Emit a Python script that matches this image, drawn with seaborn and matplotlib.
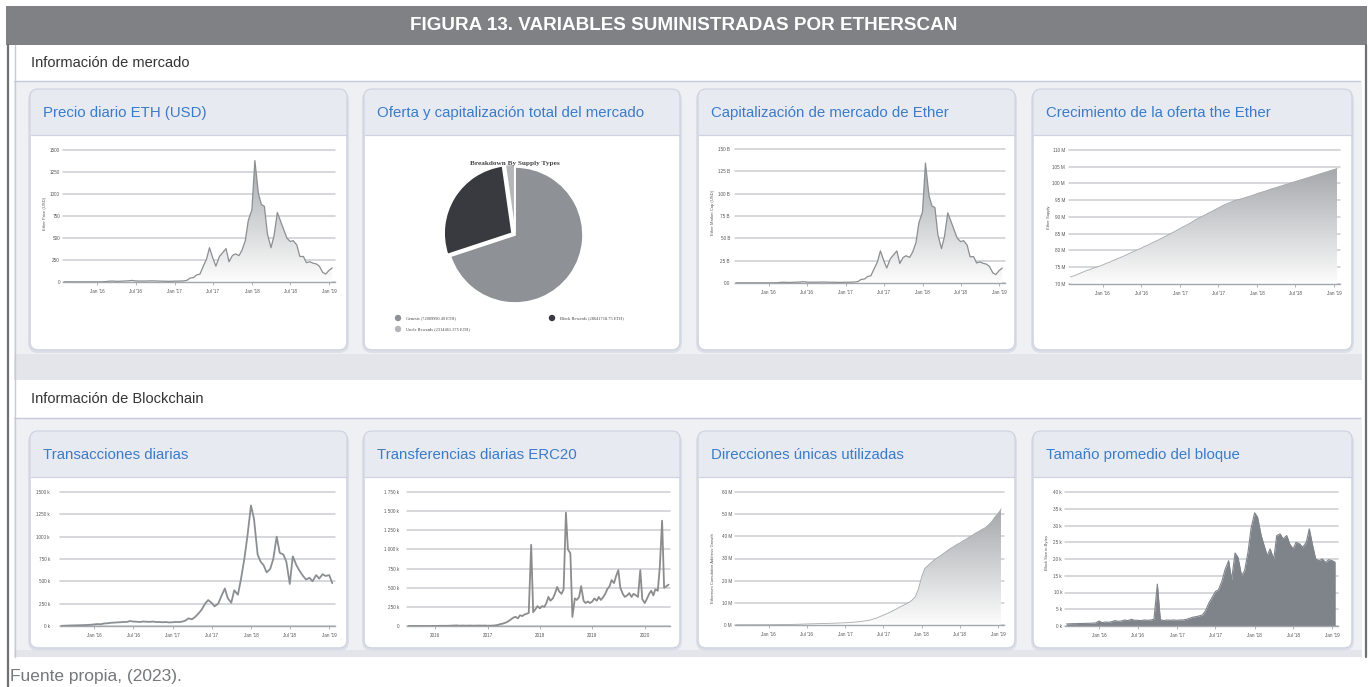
import numpy as np
import pandas as pd
import matplotlib
matplotlib.use("Agg")
import matplotlib.pyplot as plt
import matplotlib.dates as mdates
from matplotlib.patches import FancyBboxPatch, Rectangle, Circle
from matplotlib.lines import Line2D
from matplotlib.colors import LinearSegmentedColormap
from matplotlib.transforms import Affine2D
import seaborn as sns

# ---------------- data ----------------
dates_main = pd.date_range("2015-08-01", "2019-01-15", freq="SMS")
dates_erc20 = pd.date_range("2015-07-01", "2020-06-15", freq="SMS")

price_usd = [1.5, 1.2, 1.0, 0.9, 0.7, 0.5, 0.9, 0.9, 0.9, 0.9,
             0.95, 1.3, 2.5, 5, 10, 11, 8, 8, 10, 12, 14, 18, 12, 11, 11, 11, 12, 13, 12, 11, 10, 9, 8, 8,
             10, 10, 11, 13, 19, 45, 50, 80, 90, 170, 260, 390, 270, 180, 290, 330, 380, 230, 300, 320, 300, 360, 470, 700,
             820, 1380, 1000, 880, 860, 550, 390, 520, 790, 700, 590, 500, 460, 470, 420, 290, 290, 220, 230, 215, 205, 180, 110, 90,
             135, 160]

market_cap_b = [0.11, 0.09, 0.07, 0.07, 0.05, 0.04, 0.07, 0.07, 0.07, 0.07,
                0.07, 0.10, 0.19, 0.38, 0.77, 0.85, 0.62, 0.63, 0.79, 0.95, 1.12, 1.45, 0.97, 0.89, 0.90, 0.90, 0.99, 1.08, 1.0, 0.92, 0.85, 0.77, 0.68, 0.69,
                0.87, 0.87, 0.96, 1.15, 1.68, 4.0, 4.5, 7.2, 8.2, 15.5, 23.8, 36.0, 25.0, 16.8, 27.2, 31.1, 35.9, 21.8, 28.6, 30.5, 28.7, 34.6, 45.3, 67.6,
                79.5, 134.3, 97.6, 86.2, 84.5, 54.2, 38.5, 51.5, 78.5, 69.8, 59.0, 50.2, 46.3, 47.4, 42.5, 29.4, 29.5, 22.5, 23.6, 22.1, 21.1, 18.6, 11.4, 9.4,
                14.1, 16.7]

supply_m = [72.1, 72.4, 72.8, 73.2, 73.6, 74.0, 74.3, 74.7, 75.0, 75.3,
            75.7, 76.1, 76.5, 76.9, 77.3, 77.7, 78.1, 78.5, 79.0, 79.4, 79.9, 80.3, 80.7, 81.2, 81.6, 82.1, 82.6, 83.0, 83.5, 84.0, 84.5, 85.0, 85.5, 86.0,
            86.6, 87.1, 87.6, 88.1, 88.6, 89.2, 89.7, 90.2, 90.7, 91.2, 91.7, 92.2, 92.7, 93.2, 93.7, 94.1, 94.5, 94.9, 95.2, 95.4, 95.7, 96.0, 96.3, 96.6,
            97.0, 97.3, 97.6, 97.9, 98.2, 98.5, 98.8, 99.1, 99.4, 99.7, 100.0, 100.3, 100.6, 100.9, 101.2, 101.5, 101.8, 102.1, 102.4, 102.7, 103.0, 103.3, 103.6, 103.9,
            104.2, 104.5]

tx_k = [2, 3, 5, 6, 7, 8, 9, 10, 12, 14,
        18, 22, 20, 28, 30, 35, 38, 40, 42, 45, 45, 55, 50, 48, 45, 50, 48, 46, 50, 44, 45, 42, 44, 40,
        42, 45, 44, 50, 60, 85, 75, 100, 140, 180, 250, 290, 260, 220, 250, 330, 420, 310, 260, 400, 350, 520, 750, 1000,
        1350, 1200, 800, 720, 680, 600, 640, 750, 1000, 820, 800, 720, 470, 780, 680, 620, 560, 520, 540, 500, 570, 530, 580, 560,
        570, 480]

erc20_k = [0, 0, 0, 0, 0, 0, 0, 0, 0, 0, 0, 1,
           1, 1, 2, 2, 3, 2, 3, 4, 5, 6, 8, 4, 5, 6, 4, 5, 6, 5, 4, 5, 6, 5, 5, 6,
           3, 4, 5, 6, 10, 15, 25, 30, 40, 50, 70, 90, 110, 120, 100, 140, 130, 150, 160, 170, 1060, 180, 220, 260,
           230, 260, 250, 300, 380, 330, 360, 420, 510, 450, 420, 480, 1480, 1000, 950, 118, 360, 340, 380, 520, 330, 300, 320, 300,
           320, 360, 330, 380, 340, 370, 420, 480, 520, 600, 560, 650, 730, 500, 420, 380, 400, 430, 380, 420, 400, 380, 730, 350,
           300, 350, 420, 460, 400, 480, 460, 770, 1375, 500, 520, 540]

addresses_m = [0.0, 0.01, 0.01, 0.02, 0.02, 0.03, 0.04, 0.05, 0.06, 0.07,
               0.08, 0.1, 0.12, 0.14, 0.17, 0.2, 0.23, 0.26, 0.29, 0.33, 0.37, 0.42, 0.46, 0.5, 0.54, 0.58, 0.62, 0.66, 0.7, 0.75, 0.8, 0.85, 0.9, 0.95,
               1.0, 1.1, 1.2, 1.3, 1.45, 1.6, 1.8, 2.0, 2.3, 2.7, 3.2, 3.8, 4.4, 5.0, 5.7, 6.4, 7.2, 8.0, 8.7, 9.4, 10.2, 11.2, 12.8, 16.0,
               22.0, 25.5, 27.0, 28.2, 29.3, 30.3, 31.3, 32.3, 33.4, 34.4, 35.3, 36.2, 37.0, 37.9, 38.8, 39.7, 40.6, 41.5, 42.3, 43.1, 44.0, 45.2, 46.7, 48.6,
               50.5, 52.4]

block_size_k = [0.6, 0.65, 0.7, 0.7, 0.75, 0.75, 0.8, 0.8, 0.85, 0.9,
                1.5, 1.0, 1.2, 1.1, 1.3, 1.6, 1.4, 1.5, 1.8, 1.6, 2.0, 1.7, 1.7, 1.6, 1.8, 1.7, 1.8, 2.0, 12.5, 1.9, 1.6, 1.8, 1.7, 1.8,
                1.7, 1.8, 1.8, 2.0, 2.3, 2.6, 2.8, 3.0, 3.3, 4.5, 7.0, 8.5, 10.3, 10.8, 13.5, 16.8, 19.5, 13.8, 21.8, 20.5, 15.0, 16.5, 22.0, 29.0,
                33.8, 32.5, 27.0, 24.0, 21.0, 23.0, 20.0, 27.0, 27.5, 26.0, 27.0, 24.5, 23.0, 25.0, 24.5, 23.5, 25.0, 29.0, 24.0, 20.0, 19.5, 20.0, 19.0, 19.8,
                19.5, 19.0]

supply_types = ["Genesis (72009990.49 ETH)", "Block Rewards (28641718.75 ETH)", "Uncle Rewards (2314461.375 ETH)"]
supply_values = [72009990.49, 28641718.75, 2314461.375]
supply_colors = ["#8e9196", "#393a40", "#b4b6b9"]

main_tick_dates = ["2016-01-01", "2016-07-01", "2017-01-01", "2017-07-01", "2018-01-01", "2018-07-01", "2019-01-01"]
main_tick_labels = ["Jan '16", "Jul '16", "Jan '17", "Jul '17", "Jan '18", "Jul '18", "Jan '19"]
erc_tick_dates = ["2016-01-01", "2017-01-01", "2018-01-01", "2019-01-01", "2020-01-01"]
erc_tick_labels = ["2016", "2017", "2018", "2019", "2020"]

price_ticks = [0, 250, 500, 750, 1000, 1250, 1500]
price_labels = ["0", "250", "500", "750", "1000", "1250", "1500"]
mcap_ticks = [0, 25, 50, 75, 100, 125, 150]
mcap_labels = ["0.0", "25 B", "50 B", "75 B", "100 B", "125 B", "150 B"]
supply_ticks = [70, 75, 80, 85, 90, 95, 100, 105, 110]
supply_labels = ["70 M", "75 M", "80 M", "85 M", "90 M", "95 M", "100 M", "105 M", "110 M"]
tx_ticks = [0, 250, 500, 750, 1000, 1250, 1500]
tx_labels = ["0 k", "250 k", "500 k", "750 k", "1000 k", "1250 k", "1500 k"]
erc_ticks = [0, 250, 500, 750, 1000, 1250, 1500, 1750]
erc_labels = ["0", "250 k", "500 k", "750 k", "1 000 k", "1 250 k", "1 500 k", "1 750 k"]
addr_ticks = [0, 10, 20, 30, 40, 50, 60]
addr_labels = ["0 M", "10 M", "20 M", "30 M", "40 M", "50 M", "60 M"]
block_ticks = [0, 5, 10, 15, 20, 25, 30, 35, 40]
block_labels = ["0 k", "5 k", "10 k", "15 k", "20 k", "25 k", "30 k", "35 k", "40 k"]

# ---------------- figure ----------------
W, H = 1368, 687
sns.set_theme(style="white")
plt.rcParams['font.family'] = ['Liberation Sans', 'DejaVu Sans']

fig = plt.figure(figsize=(W / 100, H / 100), dpi=100)
fig.patch.set_facecolor("white")
PX = Affine2D().scale(0.01, -0.01).translate(0, H / 100) + fig.dpi_scale_trans


def rect(x0, y0, x1, y1, color, z=0):
    fig.add_artist(Rectangle((x0, y0), x1 - x0, y1 - y0, transform=PX, facecolor=color,
                             edgecolor="none", zorder=z))


def rbox(x0, y0, x1, y1, fc, ec="none", r=8, lw=0.8, z=0):
    fig.add_artist(FancyBboxPatch((x0, y0), x1 - x0, y1 - y0, boxstyle=f"round,pad=0,rounding_size={r}",
                                  transform=PX, facecolor=fc, edgecolor=ec, linewidth=lw, zorder=z))


def hline(x0, x1, y, color, lw=1.0, z=1):
    fig.add_artist(Line2D([x0, x1], [y, y], transform=PX, color=color, lw=lw, zorder=z))


def vline(x, y0, y1, color, lw=1.0, z=1):
    fig.add_artist(Line2D([x, x], [y0, y1], transform=PX, color=color, lw=lw, zorder=z))


def ptext(x, y, s, **kw):
    fig.text(x, y, s, transform=PX, **kw)


# background structure
rect(14, 45, 1362, 657, "#e3e5ea")
rect(14, 45, 1362, 81, "white")
rect(14, 81, 1362, 354, "#eff0f4")
rect(14, 380, 1362, 418, "white")
rect(14, 418, 1362, 650, "#eff0f4")
rect(6, 6, 1367, 45, "#808184", z=2)
vline(7.5, 45, 687, "#6f7073", lw=1.6, z=2)
vline(1366, 45, 657, "#6f7073", lw=1.6, z=2)
vline(14.5, 45, 657, "#c5cadb", lw=1.0, z=2)
hline(14, 1360, 81, "#c5cadb", lw=1.0)
hline(14, 1360, 418, "#c5cadb", lw=1.0)

ptext(684, 26, "FIGURA 13. VARIABLES SUMINISTRADAS POR ETHERSCAN", color="white", fontsize=13.6,
      fontweight="bold", ha="center", va="center", zorder=3)
ptext(31, 63, "Información de mercado", color="#333333", fontsize=10.5, va="center")
ptext(31, 399, "Información de Blockchain", color="#333333", fontsize=10.5, va="center")
ptext(10, 677, "Fuente propia, (2023).", color="#76787b", fontsize=12.5, va="center")

card_x = [(30, 347), (364, 680), (698, 1015), (1033, 1352)]
rows = [(89, 135, 350), (431, 477, 648)]
titles = [["Precio diario ETH (USD)", "Oferta y capitalización total del mercado",
           "Capitalización de mercado de Ether", "Crecimiento de la oferta the Ether"],
          ["Transacciones diarias", "Transferencias diarias ERC20",
           "Direcciones únicas utilizadas", "Tamaño promedio del bloque"]]
for (top, hdr, bot), row_titles in zip(rows, titles):
    for (x0, x1), t in zip(card_x, row_titles):
        rbox(x0 - 2, top + 1, x1 + 2, bot + 3, "#dcdfe7", r=10, z=1)
        rbox(x0, top, x1, bot, "#e8eaf2", ec="#cdd2e0", r=8, z=2)
        rbox(x0 + 1, hdr, x1 - 1, bot - 1, "white", r=7, z=2)
        rect(x0 + 1, hdr, x1 - 1, hdr + 12, "white", z=2)
        hline(x0 + 1, x1 - 1, hdr, "#cfd3df", lw=0.9, z=3)
        ptext(x0 + 13, (top + hdr) / 2 + 1, t, color="#3a7cc9", fontsize=10.8, va="center", zorder=4)


def add_ax(l, t, r, b):
    ax = fig.add_axes([l / W, 1 - b / H, (r - l) / W, (b - t) / H])
    ax.set_zorder(5)
    return ax


def style(ax, yt, ytl, xt, xtl, xlim, pad_px):
    ax.set_facecolor("none")
    ax.set_ylim(yt[0], yt[-1])
    ax.set_yticks(yt)
    ax.set_yticklabels(ytl)
    ax.set_xticks(pd.to_datetime(xt))
    ax.set_xticklabels(xtl)
    ax.set_xlim(pd.Timestamp(xlim[0]), pd.Timestamp(xlim[1]))
    for s in ["top", "right", "left"]:
        ax.spines[s].set_visible(False)
    ax.spines["bottom"].set_color("#a3a6ab")
    ax.spines["bottom"].set_linewidth(1.0)
    ax.grid(axis="y", color="#cacdd2", lw=1.1)
    ax.grid(axis="x", visible=False)
    for gl in ax.get_ygridlines():
        gl.set_clip_on(False)
    ax.tick_params(axis="y", length=0, labelsize=3.3, labelcolor="#555555", pad=pad_px * 0.72)
    ax.tick_params(axis="x", bottom=True, length=2.2, width=0.6, color="#a3a6ab", labelsize=3.3,
                   labelcolor="#555555", pad=2.5)
    ax.set_xlabel("")
    ax.set_ylabel("")
    ax.set_axisbelow(True)


grad_cmap = LinearSegmentedColormap.from_list("g", ["#fdfdfd", "#a5a7ab"])


def gradient_area(ax, dates, vals, base, top):
    poly = ax.fill_between(dates, vals, base, color="none", linewidth=0)
    xn = mdates.date2num(dates)
    g = np.linspace(0, 1, 256).reshape(-1, 1)
    im = ax.imshow(g, extent=[xn[0], xn[-1], base, top], origin="lower", aspect="auto",
                   cmap=grad_cmap, zorder=2)
    im.set_clip_path(poly.get_paths()[0], transform=ax.transData)


main_xlim = ("2015-07-25", "2019-01-28")
erc_xlim = ("2015-06-20", "2020-06-25")

# price
ax = add_ax(63, 150, 335, 282)
gradient_area(ax, dates_main, price_usd, 0, 1400)
sns.lineplot(x=dates_main, y=price_usd, ax=ax, color="#8d8e91", linewidth=0.9, zorder=3)
style(ax, price_ticks, price_labels, main_tick_dates, main_tick_labels, main_xlim, 3)
ptext(45, 213, "Ether Price (USD)", rotation=90, fontsize=3, color="#555555", ha="center", va="center")

# pie
axp = add_ax(430, 150, 600, 320)
axp.pie(supply_values, colors=supply_colors, startangle=90, counterclock=False,
        explode=[0, 0.05, 0.04], wedgeprops=dict(edgecolor="white", linewidth=1.2))
axp.set_xlim(-1.25, 1.25)
axp.set_ylim(-1.25, 1.25)
ptext(515, 163, "Breakdown By Supply Types", fontsize=5.2, color="#444444", ha="center", va="center",
      family=["Liberation Serif", "DejaVu Serif"], fontweight="bold", zorder=6)
leg_pos = [(398, 318), (552, 318), (398, 329)]
for (lx, ly), lab, c in zip(leg_pos, supply_types, supply_colors):
    fig.add_artist(Circle((lx, ly), 3.2, transform=PX, facecolor=c, edgecolor="none", zorder=6))
    ptext(lx + 8, ly, lab, fontsize=3.2, color="#444444", va="center",
          family=["Liberation Serif", "DejaVu Serif"], zorder=6)

# market cap
ax = add_ax(735, 149, 1005, 283)
gradient_area(ax, dates_main, market_cap_b, 0, 134)
sns.lineplot(x=dates_main, y=market_cap_b, ax=ax, color="#8d8e91", linewidth=0.9, zorder=3)
style(ax, mcap_ticks, mcap_labels, main_tick_dates, main_tick_labels, main_xlim, 5)
ptext(713, 212, "Ether Market Cap (USD)", rotation=90, fontsize=3, color="#555555", ha="center", va="center")

# supply
ax = add_ax(1069, 150, 1340, 284)
gradient_area(ax, dates_main, supply_m, 70, 104.5)
sns.lineplot(x=dates_main, y=supply_m, ax=ax, color="#a8aaae", linewidth=0.6, zorder=3)
style(ax, supply_ticks, supply_labels, main_tick_dates, main_tick_labels, main_xlim, 4)
ptext(1049, 217, "Ether Supply", rotation=90, fontsize=3, color="#555555", ha="center", va="center")

# transactions
ax = add_ax(60, 492, 335, 626)
sns.lineplot(x=dates_main, y=tx_k, ax=ax, color="#8b8e92", linewidth=1.3, zorder=3)
style(ax, tx_ticks, tx_labels, main_tick_dates, main_tick_labels, main_xlim, 10)

# ERC20
ax = add_ax(407, 492, 670, 626)
sns.lineplot(x=dates_erc20, y=erc20_k, ax=ax, color="#8c8c8c", linewidth=1.3, zorder=3)
style(ax, erc_ticks, erc_labels, erc_tick_dates, erc_tick_labels, erc_xlim, 8)

# unique addresses
ax = add_ax(735, 492, 1004, 625)
gradient_area(ax, dates_main, addresses_m, 0, 52.4)
sns.lineplot(x=dates_main, y=addresses_m, ax=ax, color="#a8aaae", linewidth=0.6, zorder=3)
style(ax, addr_ticks, addr_labels, main_tick_dates, main_tick_labels, main_xlim, 3)
ptext(713, 568, "Ethereum Cumulative Address Growth", rotation=90, fontsize=3, color="#555555",
      ha="center", va="center")

# block size
ax = add_ax(1065, 492, 1338, 626)
ax.fill_between(dates_main, block_size_k, 0, color="#7f838a", linewidth=0, zorder=2)
sns.lineplot(x=dates_main, y=block_size_k, ax=ax, color="#7f838a", linewidth=0.8, zorder=3)
style(ax, block_ticks, block_labels, main_tick_dates, main_tick_labels, main_xlim, 3)
ptext(1047, 552, "Block Size in Bytes", rotation=90, fontsize=3, color="#555555", ha="center", va="center")

fig.savefig("out.png", dpi=100, facecolor="white")
